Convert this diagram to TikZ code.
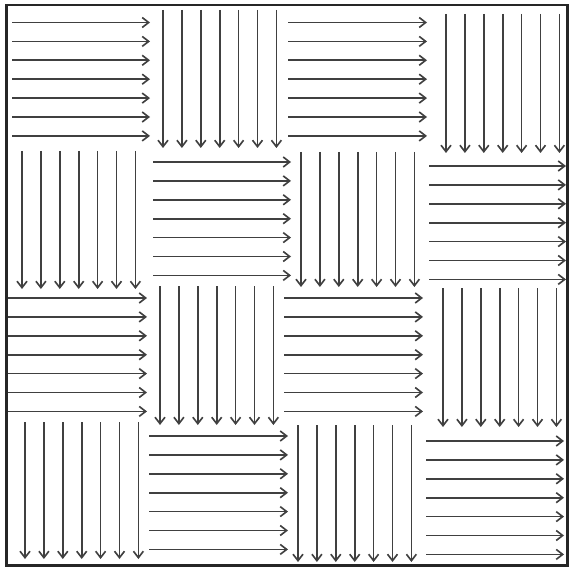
\documentclass[tikz,border=0pt]{standalone}
\usetikzlibrary{arrows.meta}
\begin{document}
\begin{tikzpicture}[x=0.03cm, y=-0.03cm,
    frame/.style={draw=black!85, line width=2pt},
    flow/.style={-{Straight Barb[length=5.5pt, width=8.5pt]}, line width=1.4pt, color=black!75}]

    \useasboundingbox (0,0) rectangle (569,568);
    \draw [frame] (6.5,4.7) rectangle (567.5,565.5);

    % cells with arrows to the right: x start / x end / first y
    \foreach \xa/\xb/\ya in {12/150/22.5, 288/427/22.5, 153/291/162, 429/566/166,
                             8/147/298, 284/423/298, 149/288/436, 426/564/441}
      \foreach \k in {0,...,6}
        \draw [flow] (\xa,\ya+18.9*\k) -- (\xb,\ya+18.9*\k);

    % cells with arrows downwards: first x / y start / y end
    \foreach \xa/\ya/\yb in {163/10/148, 446/14/153, 22/151/289, 301/152/287,
                             160/286/425, 443/288/427, 25/422/559, 298/425/562}
      \foreach \k in {0,...,6}
        \draw [flow] (\xa+18.9*\k,\ya) -- (\xa+18.9*\k,\yb);
\end{tikzpicture}
\end{document}
